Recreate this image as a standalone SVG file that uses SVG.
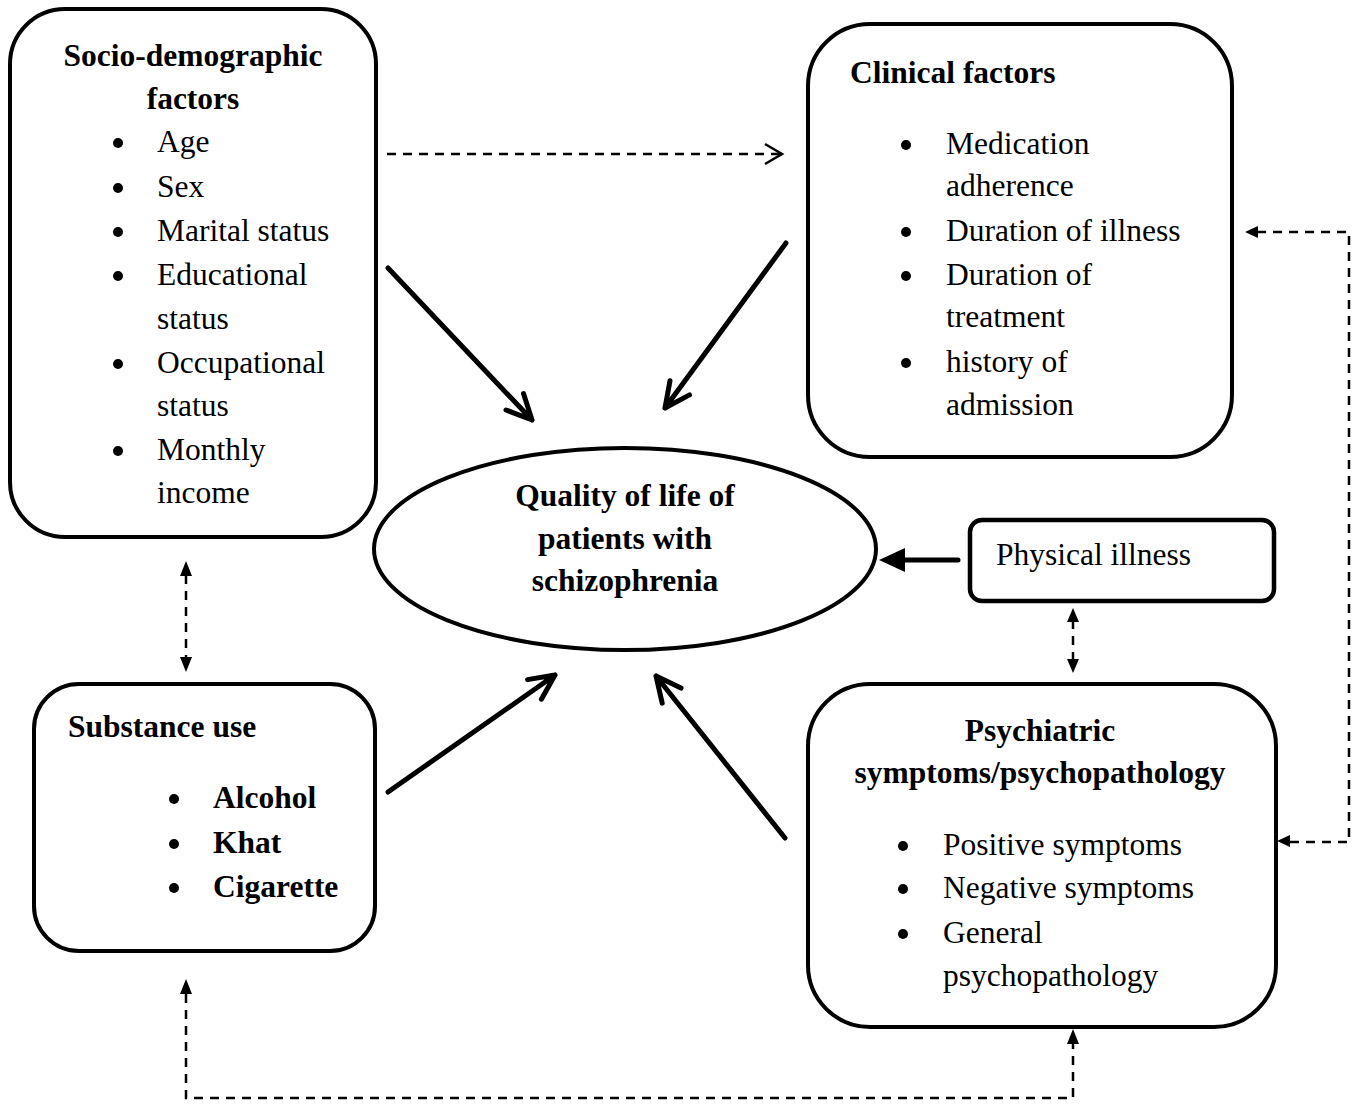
<svg xmlns="http://www.w3.org/2000/svg" width="1355" height="1104" viewBox="0 0 1355 1104">
<style>
.box{fill:#fff;stroke:#000;stroke-width:4}
.t{font-family:"Liberation Serif","Times New Roman",serif;font-size:31.5px;fill:#000}
.b{font-weight:bold}
.c{text-anchor:middle}
.sol{fill:none;stroke:#000;stroke-width:5;stroke-linecap:round;stroke-linejoin:round}
.dash{fill:none;stroke:#000;stroke-width:2.5;stroke-dasharray:9 7}
.head{fill:#000;stroke:none}
</style>
<rect width="1355" height="1104" fill="#fff"/>
<g id="socio">
<rect class="box" x="10" y="9" width="366" height="528" rx="55"/>
<text class="t b c" x="193" y="66">Socio-demographic</text>
<text class="t b c" x="193" y="109">factors</text>
<g class="t">
<circle cx="118" cy="143" r="5"/><text x="157" y="152">Age</text>
<circle cx="118" cy="188" r="5"/><text x="157" y="197">Sex</text>
<circle cx="118" cy="232" r="5"/><text x="157" y="241">Marital status</text>
<circle cx="118" cy="276" r="5"/><text x="157" y="285">Educational</text>
<text x="157" y="329">status</text>
<circle cx="118" cy="364" r="5"/><text x="157" y="373">Occupational</text>
<text x="157" y="416">status</text>
<circle cx="118" cy="451" r="5"/><text x="157" y="460">Monthly</text>
<text x="157" y="503">income</text>
</g>
</g>
<g id="clinical">
<rect class="box" x="808" y="24" width="424" height="433" rx="62"/>
<text class="t b" x="850" y="83">Clinical factors</text>
<g class="t">
<circle cx="906" cy="145" r="5"/><text x="946" y="154">Medication</text>
<text x="946" y="196">adherence</text>
<circle cx="906" cy="232" r="5"/><text x="946" y="241">Duration of illness</text>
<circle cx="906" cy="276" r="5"/><text x="946" y="285">Duration of</text>
<text x="946" y="327">treatment</text>
<circle cx="906" cy="363" r="5"/><text x="946" y="372">history of</text>
<text x="946" y="415">admission</text>
</g>
</g>
<g id="qol">
<ellipse cx="625" cy="549" rx="251" ry="101" fill="#fff" stroke="#000" stroke-width="4"/>
<text class="t b c" x="625" y="506">Quality of life of</text>
<text class="t b c" x="625" y="549">patients with</text>
<text class="t b c" x="625" y="591">schizophrenia</text>
</g>
<g id="physical">
<rect x="970" y="520" width="304" height="81" rx="12" fill="#fff" stroke="#000" stroke-width="4.5"/>
<text class="t" x="996" y="565">Physical illness</text>
</g>
<g id="substance">
<rect class="box" x="34" y="684" width="341" height="267" rx="45"/>
<text class="t b" x="68" y="737">Substance use</text>
<g class="t b">
<circle cx="174" cy="799" r="5"/><text x="213" y="808">Alcohol</text>
<circle cx="174" cy="844" r="5"/><text x="213" y="853">Khat</text>
<circle cx="174" cy="888" r="5"/><text x="213" y="897">Cigarette</text>
</g>
</g>
<g id="psychiatric">
<rect class="box" x="808" y="684" width="468" height="343" rx="62"/>
<text class="t b c" x="1040" y="741">Psychiatric</text>
<text class="t b c" x="1040" y="783">symptoms/psychopathology</text>
<g class="t">
<circle cx="903" cy="846" r="5"/><text x="943" y="855">Positive symptoms</text>
<circle cx="903" cy="889" r="5"/><text x="943" y="898">Negative symptoms</text>
<circle cx="903" cy="934" r="5"/><text x="943" y="943">General</text>
<text x="943" y="986">psychopathology</text>
</g>
</g>
<g id="connectors">
<!-- socio to clinical dashed -->
<path class="dash" d="M387 154 H780"/>
<path d="M765 144 L782 154 L765 164" fill="none" stroke="#000" stroke-width="2.5"/>
<!-- solid arrows to QoL -->
<path class="sol" d="M388 268 L532 420 M506 410 L532 420 L523.5 393.6"/>
<path class="sol" d="M786 243 L665 408 M670 380.7 L665 408 L689.5 394.9"/>
<path class="sol" d="M388 792 L555 675 M541.4 699.2 L555 675 L527.6 679.6"/>
<path class="sol" d="M785 838 L656 676 M681 688.1 L656 676 L662.2 703.1"/>
<path class="sol" d="M958 560 H900" stroke-linecap="butt"/>
<path class="head" d="M879 560 L905 548 L905 572 Z"/>
<!-- right side loop clinical <-> psychiatric -->
<path class="dash" d="M1257 232 H1349 V842 H1290"/>
<path class="head" d="M1245 232 L1258 226 L1258 238 Z"/>
<path class="head" d="M1277 841 L1290 835 L1290 847 Z"/>
<!-- socio <-> substance -->
<path class="dash" d="M186 575 V660" stroke-dasharray="10 8"/>
<path class="head" d="M186 561 L180 576 L192 576 Z"/>
<path class="head" d="M186 672 L180 657 L192 657 Z"/>
<!-- physical <-> psychiatric -->
<path class="dash" d="M1073 620 V660" stroke-dasharray="9 8"/>
<path class="head" d="M1073 608 L1067 622 L1079 622 Z"/>
<path class="head" d="M1073 673 L1067 659 L1079 659 Z"/>
<!-- substance <-> psychiatric bottom -->
<path class="dash" d="M186 994 V1098 H1073 V1044"/>
<path class="head" d="M186 979 L180 994 L192 994 Z"/>
<path class="head" d="M1073 1029 L1067 1044 L1079 1044 Z"/>
</g>
</svg>
